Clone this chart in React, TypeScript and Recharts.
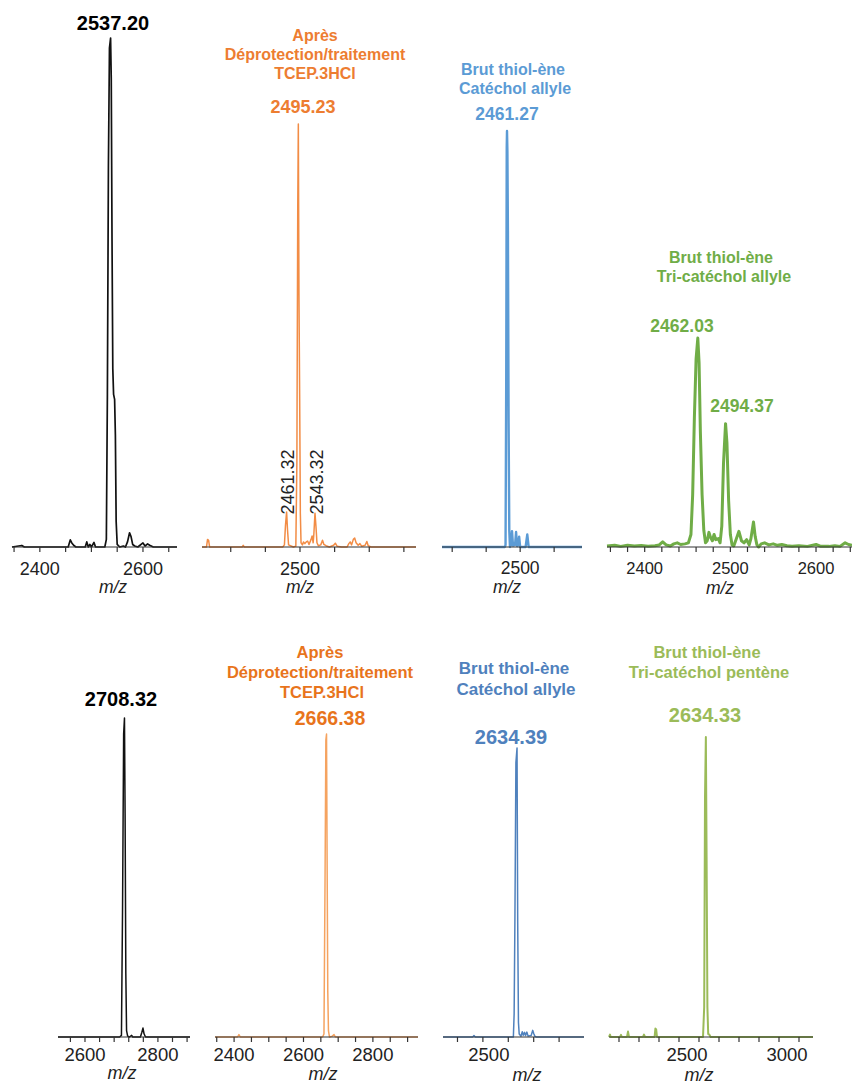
import { LineChart, Line, XAxis, YAxis } from "recharts"

const FONT = '"Liberation Sans", Arial, Helvetica, sans-serif'

// spectra as [m/z, relative intensity %]
const blackTop: [number, number][] = [
  [2346, 0], [2365, 0.3], [2370, 0], [2400, 0], [2455, 0], [2459, 1.4], [2462, 0.8],
  [2466, 0.3], [2470, 0], [2488, 0], [2491, 1], [2494, 0], [2497, 0.5], [2500, 0],
  [2505, 0.9], [2508, 0], [2526, 0], [2529, 1.5], [2531, 30], [2533, 75], [2535, 98],
  [2537.2, 100], [2538.5, 92], [2540, 60], [2541.5, 35], [2543, 30], [2545, 29],
  [2546.5, 22], [2548, 5], [2550, 0.5], [2555, 0], [2562, 0.2], [2566, 0], [2570, 1],
  [2574, 2.8], [2577, 2], [2580, 0.5], [2584, 0.2], [2590, 0], [2600, 0.8], [2604, 0.2],
  [2609, 0.6], [2614, 0.3], [2620, 0], [2666, 0],
]

const orangeTop: [number, number][] = [
  [2217, 0], [2230, 0], [2233, 1.8], [2236, 1.6], [2239, 0], [2300, 0], [2333, 0],
  [2336, 0.4], [2339, 0], [2450, 0], [2455, 0.5], [2458, 5], [2461.3, 8.3], [2464, 4],
  [2467, 0.5], [2481, 0], [2488, 0.2], [2491, 20], [2493.5, 80], [2495.2, 100], [2497, 60],
  [2499, 36], [2501, 8], [2503, 1], [2507, 0.5], [2510, 1.2], [2514, 0.8], [2518, 1.2],
  [2522, 1.4], [2526, 0.6], [2532, 1.8], [2535, 2.6], [2538, 1], [2540, 3], [2543.3, 8],
  [2546, 5], [2549, 1], [2553, 0.3], [2560, 0.5], [2565, 1.6], [2569, 0.6], [2575, 0.3],
  [2585, 0], [2597, 0.4], [2602, 0.9], [2607, 0.2], [2620, 0], [2636, 0], [2641, 0.8],
  [2645, 1.2], [2649, 0.5], [2654, 1.8], [2658, 2.1], [2662, 1], [2668, 0.4], [2673, 0.8],
  [2678, 0.2], [2688, 0.4], [2693, 1.3], [2697, 0.3], [2705, 0], [2835, 0],
]

const blueTop: [number, number][] = [
  [2270, 0], [2455, 0], [2457, 0.5], [2459, 40], [2460.5, 96], [2461.3, 100],
  [2462.5, 95], [2464, 76], [2466, 30], [2468, 4], [2470, 0], [2473, 0.5], [2476, 3.8],
  [2479, 0.3], [2485, 0.5], [2488, 3.6], [2491, 0.2], [2494, 0.5], [2497, 2.5], [2500, 0],
  [2516, 0], [2521, 3], [2525, 0], [2682, 0],
]

const greenTop: [number, number][] = [
  [2356, 0.5], [2365, 0.8], [2372, 0.3], [2380, 0.8], [2388, 0.5], [2396, 0.7], [2404, 0.4],
  [2412, 0.6], [2417, 1], [2421, 2.5], [2425, 1], [2430, 0.5], [2434, 1.5], [2438, 2],
  [2442, 1.2], [2447, 1.5], [2451, 2], [2454, 6], [2456, 25], [2458, 62], [2460, 90],
  [2462, 100], [2463.5, 88], [2465, 55], [2467, 25], [2469, 8], [2471, 2], [2473, 3],
  [2475, 7], [2477, 4.5], [2479, 3], [2481, 6], [2483, 3.5], [2486, 4], [2488, 2],
  [2490, 10], [2492, 40], [2494.4, 59], [2496, 50], [2498, 22], [2500, 6], [2502, 1],
  [2504, 0.5], [2507, 4], [2510, 7.5], [2513, 3], [2516, 2], [2519, 3.5], [2522, 1],
  [2524, 4], [2527, 12], [2529, 5], [2531, 1], [2533, 0], [2536, 1.5], [2540, 2],
  [2545, 1], [2550, 1.5], [2555, 0.8], [2560, 1.2], [2566, 0.6], [2572, 0.4], [2580, 0.6],
  [2590, 0.3], [2600, 1.2], [2605, 0.4], [2615, 0.3], [2622, 0.6], [2628, 0.3], [2634, 2],
  [2638, 1.2], [2642, 0.8],
]

const blackBottom: [number, number][] = [
  [2526, 0], [2695, 0], [2700, 0.5], [2703, 40], [2706, 95], [2708.3, 100], [2710, 70],
  [2712, 20], [2714, 2], [2717, 0.3], [2722, 0], [2728, 0.5], [2731, 0], [2752, 0],
  [2756, 1.5], [2759, 2.8], [2762, 1], [2766, 0], [2888, 0],
]

const orangeBottom: [number, number][] = [
  [2345, 0], [2410, 0], [2414, 0.8], [2418, 0], [2655, 0], [2659, 1], [2662, 50],
  [2664.5, 98], [2666.4, 100], [2668, 60], [2670, 15], [2672, 2], [2675, 0], [2683, 0.3],
  [2688, 0.8], [2692, 0], [2930, 0],
]

const blueBottom: [number, number][] = [
  [2343, 0], [2460, 0], [2465, 0.5], [2470, 0], [2620, 0], [2623, 8], [2626, 40],
  [2630, 95], [2634.4, 100], [2637, 40], [2640, 5], [2643, 1], [2650, 0.3], [2655, 1.8],
  [2659, 0.6], [2664, 1.6], [2668, 0.5], [2673, 1.7], [2678, 0.3], [2690, 0.5],
  [2696, 2.3], [2700, 1.2], [2705, 0.2], [2710, 0], [2898, 0],
]

const greenBottom: [number, number][] = [
  [2150, 0], [2155, 0.8], [2158, 0], [2205, 0], [2210, 0.7], [2214, 0], [2240, 0],
  [2245, 1.8], [2250, 0], [2320, 0], [2325, 0.8], [2330, 0], [2378, 0], [2382, 2.8],
  [2386, 2.5], [2390, 0], [2620, 0], [2626, 10], [2630, 80], [2634.3, 100], [2638, 60],
  [2642, 10], [2646, 1], [2652, 0.8], [2658, 0], [3170, 0],
]

// axis ticks, and which of them carry a label
const ticks1 = [2350, 2400, 2450, 2500, 2550, 2600, 2650]
const labels1 = [2400, 2600]
const ticks2 = [2300, 2400, 2500, 2600, 2700, 2800]
const labels2 = [2500]
const ticks3 = [2300, 2400, 2500, 2600]
const labels3 = [2500]
const ticks4 = [2360, 2380, 2400, 2420, 2440, 2460, 2480, 2500, 2520, 2540, 2560, 2580, 2600, 2620, 2640]
const labels4 = [2400, 2500, 2600]
const ticks5 = [2560, 2600, 2640, 2680, 2720, 2760, 2800, 2840, 2880]
const labels5 = [2600, 2800]
const ticks6 = [2350, 2400, 2450, 2500, 2550, 2600, 2650, 2700, 2750, 2800, 2850, 2900]
const labels6 = [2400, 2600, 2800]
const ticks7 = [2400, 2500, 2600, 2700, 2800]
const labels7 = [2500]
const ticks8 = [2200, 2300, 2400, 2500, 2600, 2700, 2800, 2900, 3000, 3100]
const labels8 = [2500, 3000]

type SpecProps = {
  data: [number, number][]
  x0: number
  x1: number
  top: number
  axisY: number
  domain: [number, number]
  ticks: number[]
  shown: number[]
  color: string
  lw: number
  fs: number
  gap: number
  dx?: number
}

function Spectrum(p: SpecProps) {
  const rows = p.data.map(([mz, v]) => ({ mz, v }))
  const pad = 3
  const mt = 4
  const axisH = 40
  const w = p.x1 - p.x0 + pad * 2
  const h = mt + (p.axisY - p.top) + axisH
  return (
    <div style={{ position: "absolute", left: p.x0 - pad, top: p.top - mt }}>
      <LineChart width={w} height={h} data={rows} margin={{ top: mt, right: pad, left: pad, bottom: 0 }}>
        <XAxis
          type="number"
          dataKey="mz"
          domain={p.domain}
          ticks={p.ticks}
          interval={0}
          height={axisH}
          axisLine={{ stroke: "#333", strokeWidth: 1.2 }}
          tickLine={{ stroke: "#333", strokeWidth: 1.2 }}
          tickSize={5}
          tickMargin={p.gap}
          tick={(t: any) =>
            p.shown.includes(t.payload.value) ? (
              <text
                x={t.x + (p.dx || 0)}
                y={t.y}
                dy="0.71em"
                textAnchor="middle"
                fontSize={p.fs}
                fill="#222"
                fontFamily={FONT}
              >
                {t.payload.value}
              </text>
            ) : (
              <g />
            )
          }
        />
        <YAxis hide type="number" domain={[0, 100]} />
        <Line
          type="linear"
          dataKey="v"
          stroke={p.color}
          strokeWidth={p.lw}
          strokeLinejoin="round"
          dot={false}
          isAnimationActive={false}
        />
      </LineChart>
    </div>
  )
}

function Txt(props: {
  x: number
  y: number
  size: number
  color: string
  bold?: boolean
  italic?: boolean
  rotate?: boolean
  children: string
}) {
  return (
    <div
      style={{
        position: "absolute",
        left: props.x,
        top: props.y,
        transform: "translate(-50%, -50%)" + (props.rotate ? " rotate(-90deg)" : ""),
        fontSize: props.size,
        lineHeight: 1,
        color: props.color,
        fontWeight: props.bold ? 700 : 400,
        fontStyle: props.italic ? "italic" : "normal",
        whiteSpace: "nowrap",
        fontFamily: FONT,
      }}
    >
      {props.children}
    </div>
  )
}

const ORANGE = "#ED7D31"
const ORANGE_DARK = "#E8741C"
const BLUE = "#5B9BD5"
const BLUE_DARK = "#4F81BD"
const GREEN = "#70AD47"
const OLIVE = "#9BBB59"

export default function App() {
  return (
    <div
      style={{
        position: "absolute",
        left: 0,
        top: 0,
        width: 852,
        height: 1084,
        background: "#fff",
        overflow: "hidden",
        fontFamily: FONT,
      }}
    >
      {/* top row */}
      <Spectrum data={blackTop} x0={12} x1={177} top={38} axisY={547} domain={[2346, 2666]}
        ticks={ticks1} shown={labels1} color="#111" lw={1.7} fs={18} gap={10} />
      <Spectrum data={orangeTop} x0={202} x1={416} top={124} axisY={547} domain={[2217, 2835]}
        ticks={ticks2} shown={labels2} color="#F28C45" lw={1.5} fs={18} gap={10} />
      <Spectrum data={blueTop} x0={442} x1={582} top={131} axisY={547} domain={[2270, 2682]}
        ticks={ticks3} shown={labels3} color={BLUE} lw={2.4} fs={17.5} gap={10} />
      <Spectrum data={greenTop} x0={607} x1={852} top={338} axisY={547} domain={[2356, 2642]}
        ticks={ticks4} shown={labels4} color={GREEN} lw={3} fs={16.5} gap={10} />

      {/* bottom row */}
      <Spectrum data={blackBottom} x0={58} x1={190} top={718} axisY={1037} domain={[2526, 2888]}
        ticks={ticks5} shown={labels5} color="#111" lw={1.5} fs={18.5} gap={6} />
      <Spectrum data={orangeBottom} x0={215} x1={418} top={734} axisY={1037} domain={[2345, 2930]}
        ticks={ticks6} shown={labels6} color="#F5A360" lw={1.5} fs={18.5} gap={6} />
      <Spectrum data={blueBottom} x0={443} x1={584} top={748} axisY={1037} domain={[2343, 2898]}
        ticks={ticks7} shown={labels7} color={BLUE_DARK} lw={1.5} fs={18.5} gap={6} dx={6} />
      <Spectrum data={greenBottom} x0={609} x1={813} top={737} axisY={1037} domain={[2150, 3170]}
        ticks={ticks8} shown={labels8} color={OLIVE} lw={2} fs={18.5} gap={6} dx={8} />

      {/* top row labels */}
      <Txt x={113} y={23} size={20} color="#000" bold>2537.20</Txt>

      <Txt x={315} y={36} size={16} color={ORANGE} bold>Après</Txt>
      <Txt x={315} y={55} size={16} color={ORANGE} bold>Déprotection/traitement</Txt>
      <Txt x={315} y={74} size={16} color={ORANGE} bold>TCEP.3HCl</Txt>
      <Txt x={303} y={107} size={18} color={ORANGE} bold>2495.23</Txt>
      <Txt x={288} y={482} size={18} color="#222" rotate>2461.32</Txt>
      <Txt x={317} y={482} size={18} color="#222" rotate>2543.32</Txt>

      <Txt x={513} y={70} size={16} color={BLUE} bold>Brut thiol-ène</Txt>
      <Txt x={515} y={89} size={16} color={BLUE} bold>Catéchol allyle</Txt>
      <Txt x={507} y={115} size={17.5} color={BLUE} bold>2461.27</Txt>

      <Txt x={721} y={258} size={16} color={GREEN} bold>Brut thiol-ène</Txt>
      <Txt x={724} y={277} size={16} color={GREEN} bold>Tri-catéchol allyle</Txt>
      <Txt x={682} y={327} size={17.5} color={GREEN} bold>2462.03</Txt>
      <Txt x={742} y={407} size={17.5} color={GREEN} bold>2494.37</Txt>

      <Txt x={113} y={588} size={17.5} color="#222" italic>m/z</Txt>
      <Txt x={300} y={588} size={17.5} color="#222" italic>m/z</Txt>
      <Txt x={507} y={588} size={17.5} color="#222" italic>m/z</Txt>
      <Txt x={720} y={589} size={17.5} color="#222" italic>m/z</Txt>

      {/* bottom row labels */}
      <Txt x={121} y={699} size={20} color="#000" bold>2708.32</Txt>

      <Txt x={320} y={652} size={16.5} color={ORANGE_DARK} bold>Après</Txt>
      <Txt x={320} y={672} size={16.5} color={ORANGE_DARK} bold>Déprotection/traitement</Txt>
      <Txt x={322} y={692} size={16.5} color={ORANGE_DARK} bold>TCEP.3HCl</Txt>
      <Txt x={330} y={719} size={19.5} color={ORANGE_DARK} bold>2666.38</Txt>

      <Txt x={514} y={668} size={17} color={BLUE_DARK} bold>Brut thiol-ène</Txt>
      <Txt x={516} y={689} size={17} color={BLUE_DARK} bold>Catéchol allyle</Txt>
      <Txt x={511} y={737} size={20} color={BLUE_DARK} bold>2634.39</Txt>

      <Txt x={707} y={652} size={16.5} color={OLIVE} bold>Brut thiol-ène</Txt>
      <Txt x={709} y={672} size={16.5} color={OLIVE} bold>Tri-catéchol pentène</Txt>
      <Txt x={705} y={715} size={20} color={OLIVE} bold>2634.33</Txt>

      <Txt x={122} y={1073} size={18} color="#222" italic>m/z</Txt>
      <Txt x={323} y={1074} size={18} color="#222" italic>m/z</Txt>
      <Txt x={527} y={1074.5} size={18} color="#222" italic>m/z</Txt>
      <Txt x={699} y={1074.5} size={18} color="#222" italic>m/z</Txt>
    </div>
  )
}
